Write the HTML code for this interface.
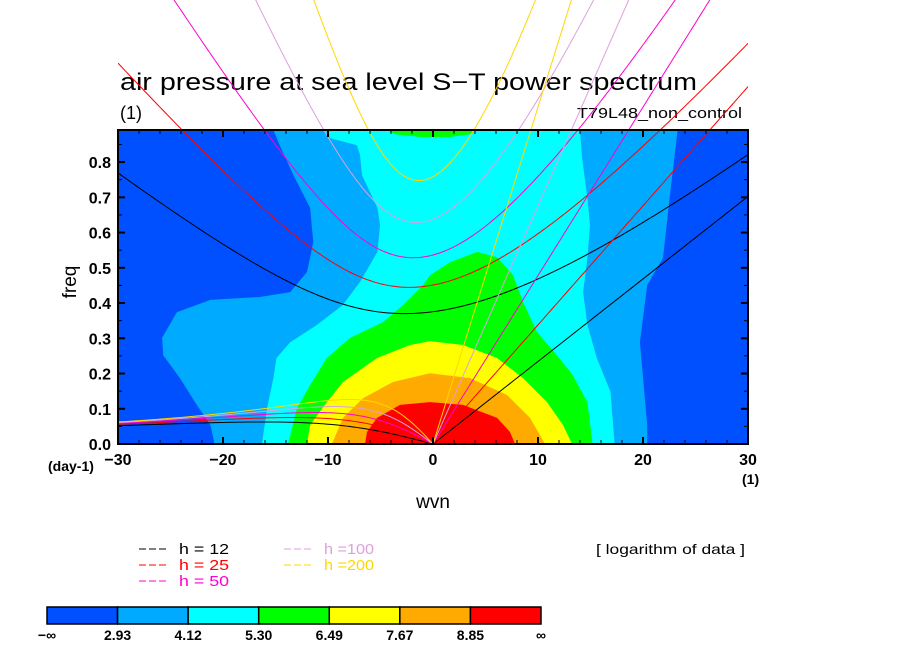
<!DOCTYPE html>
<html><head><meta charset="utf-8"><style>
html,body{margin:0;padding:0;background:#fff;}
svg{display:block;font-family:"Liberation Sans",sans-serif;}
</style></head><body>
<svg id="chart" width="904" height="654" viewBox="0 0 904 654" xmlns="http://www.w3.org/2000/svg">
<text x="120" y="90" font-size="24" textLength="577" lengthAdjust="spacingAndGlyphs">air pressure at sea level S−T power spectrum</text>
<text x="120" y="119" font-size="18">(1)</text>
<text x="742" y="118" font-size="15" text-anchor="end" textLength="165" lengthAdjust="spacingAndGlyphs">T79L48_non_control</text>
<g id="fills"></g>
<g id="curves"></g>
<g id="axes"></g>
<text x="0" y="0" font-size="19" text-anchor="middle" transform="translate(76,282) rotate(-90)">freq</text>
<text x="48" y="471" font-size="14" font-weight="bold">(day-1)</text>
<text x="742" y="484" font-size="14" font-weight="bold">(1)</text>
<text x="433" y="508" font-size="19" text-anchor="middle">wvn</text>
<text x="596" y="554" font-size="14" textLength="149" lengthAdjust="spacingAndGlyphs">[ logarithm of data ]</text>
<g id="legend"></g>
<g id="colorbar"></g>
</svg>
<script>
// ---- data ----
const depths = [12, 25, 50, 100, 200];
const depthColors = ["#000000", "#ff0000", "#ff00cc", "#dda0dd", "#ffd700"];
const levelLabels = ["−∞", "2.93", "4.12", "5.30", "6.49", "7.67", "8.85", "∞"];
const levelColors = ["#0050ff", "#00aaff", "#00ffff", "#00ff00", "#ffff00", "#ffaa00", "#ff0000"];
const xTicks = [-30, -20, -10, 0, 10, 20, 30];
const yTicks = [0.0, 0.1, 0.2, 0.3, 0.4, 0.5, 0.6, 0.7, 0.8];
const level1 = [[-20.8,0],[-21.2,0.054],[-22.5,0.111],[-24.1,0.187],[-25.7,0.252],[-25.8,0.301],[-24.4,0.374],[-21.2,0.409],[-16.5,0.417],[-13.6,0.431],[-12.0,0.488],[-11.4,0.573],[-11.7,0.670],[-13.3,0.763],[-14.6,0.848],[-15.2,0.891],[23.3,0.891],[22.6,0.715],[21.9,0.528],[20.4,0.451],[19.7,0.289],[20.4,0.054],[20.4,0]];
const level2 = [[-16.3,0],[-15.8,0.102],[-15.2,0.187],[-14.9,0.244],[-13.6,0.289],[-11.05,0.338],[-8.6,0.394],[-6.95,0.460],[-5.3,0.545],[-5.05,0.621],[-5.3,0.670],[-6.76,0.763],[-6.95,0.820],[-7.24,0.848],[-9.8,0.868],[-10.3,0.891],[14.0,0.891],[14.2,0.811],[14.7,0.698],[14.95,0.621],[14.7,0.528],[14.3,0.431],[14.7,0.338],[15.6,0.244],[16.9,0.148],[17.3,0]];
const level3 = [[-13.8,0],[-12.95,0.102],[-11.7,0.167],[-10.1,0.244],[-7.9,0.301],[-4.76,0.346],[-2.86,0.394],[-0.95,0.451],[-0.29,0.479],[1.62,0.516],[4.19,0.545],[6.1,0.530],[7.62,0.479],[8.57,0.403],[9.9,0.318],[11.8,0.252],[13.3,0.196],[14.7,0.119],[15.2,0]];
const level3top = [[-4.4,0.891],[-3.6,0.879],[-1.2,0.871],[1.6,0.871],[3.5,0.879],[4.0,0.891]];
const level4 = [[-12.0,0],[-11.7,0.054],[-10.1,0.119],[-8.57,0.176],[-5.33,0.244],[-2.19,0.281],[-0.29,0.292],[2.86,0.281],[6.1,0.244],[8.57,0.187],[10.86,0.119],[12.38,0.054],[13.24,0]];
const level5 = [[-9.62,0],[-8.57,0.074],[-6.67,0.130],[-3.81,0.176],[-0.29,0.201],[3.52,0.187],[7.05,0.139],[9.24,0.074],[10.67,0]];
const level6 = [[-6.48,0],[-6.29,0.034],[-5.33,0.074],[-3.14,0.111],[-0.29,0.119],[2.86,0.111],[6.1,0.074],[7.33,0.034],[7.81,0]];

// ---- axes ----
const X0 = 118, X1 = 748, Y0 = 444, Y1 = 130;
const xMin = -30, xMax = 30, yMin = 0, yMax = 0.891;
const sx = v => X0 + (v - xMin) / (xMax - xMin) * (X1 - X0);
const sy = v => Y0 - (v - yMin) / (yMax - yMin) * (Y0 - Y1);
const NS = "http://www.w3.org/2000/svg";
function mk(tag, attrs, parent) {
  const e = document.createElementNS(NS, tag);
  for (const k in attrs) e.setAttribute(k, attrs[k]);
  parent.appendChild(e);
  return e;
}
const fills = document.getElementById("fills");
const curves = document.getElementById("curves");
const axes = document.getElementById("axes");

const bg = mk("rect", {x: X0, y: Y1, width: X1 - X0, height: Y0 - Y1, fill: levelColors[0]}, fills);


const polys = [[level1, 1], [level2, 2], [level3, 3], [level3top, 3], [level4, 4], [level5, 5], [level6, 6]];
polys.forEach(([pts, lv]) => {
  const p = mk("polygon", {points: pts.map(q => sx(q[0]).toFixed(1) + "," + sy(q[1]).toFixed(1)).join(" "), fill: levelColors[lv]}, fills);
  
  
});

// ---- dispersion curves ----
const g = 9.81, beta = 2.29e-11, a = 6.371e6;
const toCpd = w => w * 86400 / (2 * Math.PI);
function solve(k, c, w0) {
  let w = w0;
  for (let i = 0; i < 60; i++) {
    const f = w * w - c * c * k * k - beta * k * c * c / w - 3 * beta * c;
    const df = 2 * w + beta * k * c * c / (w * w);
    const nw = w - f / df;
    if (!isFinite(nw)) break;
    w = nw;
  }
  return w;
}
const defs = mk("defs", {}, curves);
const cp = mk("clipPath", {id: "clipc"}, defs);
mk("rect", {x: X0, y: 0, width: X1 - X0, height: Y0}, cp);
const cg = mk("g", {"clip-path": "url(#clipc)"}, curves);
function drawLine(pts, color, name) {
  const d = pts.map((q, i) => (i ? "L" : "M") + sx(q[0]).toFixed(2) + "," + sy(q[1]).toFixed(2)).join("");
  const p = mk("path", {d: d, fill: "none", stroke: color, "stroke-width": 1}, cg);
  
  
}
depths.forEach((h, i) => {
  const c = Math.sqrt(g * h), col = depthColors[i];
  const ig = [], ro = [], kv = [];
  for (let s = -30; s <= 30.001; s += 0.25) {
    const k = s / a;
    const w0 = Math.sqrt(3 * beta * c + c * c * k * k);
    ig.push([s, toCpd(solve(k, c, w0))]);
    if (s <= 0) {
      const wr = -beta * k / (k * k + 3 * beta / c);
      ro.push([s, toCpd(wr)]);
    }
    if (s >= 0) kv.push([s, toCpd(c * k)]);
  }
  drawLine(ig, col, "gravity-wave-h" + h);
  drawLine(ro, col, "rossby-wave-h" + h);
  drawLine(kv, col, "kelvin-wave-h" + h);
});

// ---- frame & ticks ----
const fr = mk("rect", {x: X0, y: Y1, width: X1 - X0, height: Y0 - Y1, fill: "none", stroke: "#000", "stroke-width": 2}, axes);


for (let v = -30; v <= 30; v += 2) {
  const major = v % 10 === 0, L = major ? 7 : 4;
  mk("line", {x1: sx(v), x2: sx(v), y1: Y0, y2: Y0 - L, stroke: "#000", "stroke-width": major ? 2 : 1}, axes);
  mk("line", {x1: sx(v), x2: sx(v), y1: Y1, y2: Y1 + L, stroke: "#000", "stroke-width": major ? 2 : 1}, axes);
}
for (let j = 0; j <= 17; j++) {
  const v = j * 0.05, major = j % 2 === 0, L = major ? 7 : 4;
  mk("line", {x1: X0, x2: X0 + L, y1: sy(v), y2: sy(v), stroke: "#000", "stroke-width": major ? 2 : 1}, axes);
  mk("line", {x1: X1, x2: X1 - L, y1: sy(v), y2: sy(v), stroke: "#000", "stroke-width": major ? 2 : 1}, axes);
}
xTicks.forEach(v => {
  const t = mk("text", {x: sx(v), y: 465, "font-size": 16, "font-weight": "bold", "text-anchor": "middle"}, axes);
  t.textContent = v < 0 ? "−" + Math.abs(v) : String(v);
  
  
});
yTicks.forEach(v => {
  const t = mk("text", {x: 111, y: sy(v) + 6, "font-size": 16, "font-weight": "bold", "text-anchor": "end"}, axes);
  t.textContent = v.toFixed(1);
  
  
});

// ---- legend ----
const leg = document.getElementById("legend");
depths.forEach((h, i) => {
  const col = i < 3 ? 0 : 1, row = i < 3 ? i : i - 3;
  const x = 139 + col * 145, y = 554 + row * 16;
  const ln = mk("line", {x1: x, x2: x + 30, y1: y - 5, y2: y - 5, stroke: depthColors[i], "stroke-width": 1, "stroke-dasharray": "7,3"}, leg);
  
  
  const t = mk("text", {x: x + 40, y: y, "font-size": 15, fill: depthColors[i], textLength: 50, lengthAdjust: "spacingAndGlyphs"}, leg);
  t.textContent = h >= 100 ? "h =" + h : "h = " + h;
  
  
});

// ---- colorbar ----
const cb = document.getElementById("colorbar");
const CB0 = 47, CB1 = 541, segW = (CB1 - CB0) / levelColors.length;
levelColors.forEach((c, i) => {
  const r = mk("rect", {x: CB0 + i * segW, y: 607, width: segW, height: 17, fill: c, stroke: "#000", "stroke-width": 1.5}, cb);
  
  
});
levelLabels.forEach((l, i) => {
  const t = mk("text", {x: CB0 + i * segW, y: 640, "font-size": 14, "font-weight": "bold", "text-anchor": "middle"}, cb);
  t.textContent = l;
  
  
});
</script>
</body></html>
